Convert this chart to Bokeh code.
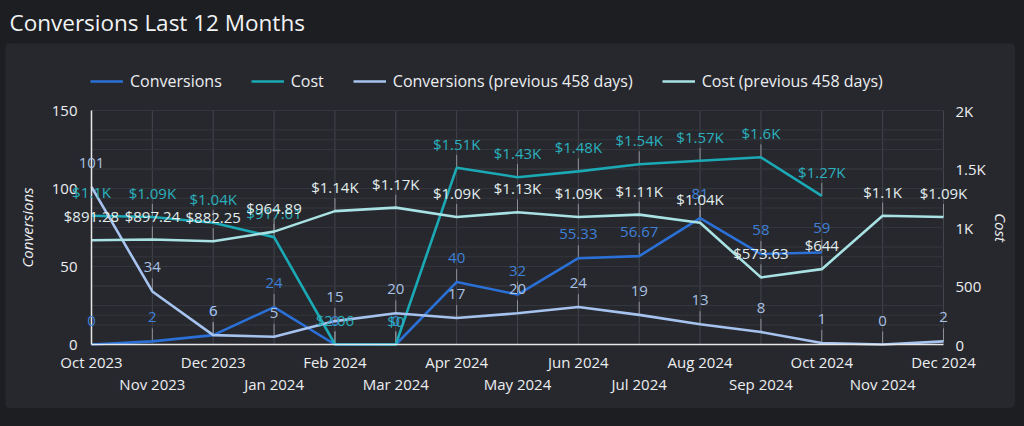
import math
from bokeh.plotting import figure
from bokeh.models import (ColumnDataSource, Range1d, LinearAxis, FixedTicker, Legend,
                          LegendItem, LabelSet)
from bokeh.layouts import column
from bokeh.embed import file_html
from bokeh.resources import INLINE
from bokeh.core.properties import value

NaN = float("nan")

# ---------------- data ----------------
months = ["Oct 2023", "Nov 2023", "Dec 2023", "Jan 2024", "Feb 2024", "Mar 2024", "Apr 2024",
          "May 2024", "Jun 2024", "Jul 2024", "Aug 2024", "Sep 2024", "Oct 2024", "Nov 2024",
          "Dec 2024"]
conversions = [0, 2, 6, 24, 0, 0, 40, 32, 55.33, 56.67, 81, 58, 59, NaN, NaN]
cost = [1100, 1090, 1040, 917.61, 2.06, 0, 1510, 1430, 1480, 1540, 1570, 1600, 1270, NaN, NaN]
conversions_prev = [101, 34, 6, 5, 15, 20, 17, 20, 24, 19, 13, 8, 1, 0, 2]
cost_prev = [891.28, 897.24, 882.25, 964.89, 1140, 1170, 1090, 1130, 1090, 1110, 1040, 573.63,
             644, 1100, 1090]

left_ticks = [0, 50, 100, 150]
left_grid = [0, 12.5, 25, 37.5, 50, 62.5, 75, 87.5, 100, 112.5, 125, 137.5, 150]
right_ticks = [0, 500, 1000, 1500, 2000]
right_tick_labels = ["0", "500", "1K", "1.5K", "2K"]
right_grid = [0, 250, 500, 750, 1000, 1250, 1500, 1750, 2000]
CONV_MAX = 150
COST_MAX = 2000

# ---------------- style ----------------
FONT = "Open Sans"
PAGE = "#1d1e22"
CARD = "#27282e"
TXT = "#eceef0"
GRID = "#34363d"
VGRID = "#43454d"
C_CONV = "#2a70d6"
C_COST = "#1aa9b5"
C_CPREV = "#a6c3ef"
C_COSTPREV = "#a8e2e4"
L_CONV = "#3f80d8"
L_COST = "#2ab0bd"
L_CPREV = "#a9c1e3"
L_COSTPREV = "#e2eeee"

# canvas geometry of the main card figure (px)
W, H = 1010, 365
PL, PR, PT, PB = 86, 938, 67, 301      # plot area edges
LEADER_PX = 13


def fmt_num(v):
    return f"{v:.2f}".rstrip("0").rstrip(".")


def fmt_cost(v):
    if v >= 1000:
        return "$" + fmt_num(v / 1000) + "K"
    return "$" + fmt_num(v)


x = list(range(len(months)))
n = len(months) - 1
x_per_px = n / (PR - PL)
conv_per_px = CONV_MAX / (PB - PT)
cost_per_px = COST_MAX / (PB - PT)

# ---------------- title figure ----------------
p0 = figure(width=1024, height=43, toolbar_location=None, output_backend="svg",
            x_range=(0, 1), y_range=(0, 1), x_axis_location=None, y_axis_location=None,
            min_border=0, background_fill_color=PAGE, border_fill_color=PAGE,
            outline_line_color=None)
p0.grid.visible = False
p0.title.text = "Conversions Last 12 Months"
p0.title.text_font = FONT
p0.title.text_font_size = "22.5px"
p0.title.text_font_style = "normal"
p0.title.text_color = "#f1f3f4"
p0.title.align = "left"
p0.title.offset = 9
p0.title.standoff = 9

# ---------------- main figure (frame covers the whole card) ----------------
p = figure(width=W, height=H, toolbar_location=None, output_backend="svg",
           x_range=Range1d(-PL * x_per_px, (W - PL) * x_per_px),
           y_range=Range1d(-(H - PB) * conv_per_px, PB * conv_per_px),
           background_fill_color=CARD, border_fill_color=CARD, outline_line_color=None,
           min_border=0)
p.margin = (0, 0, 0, 5)
p.styles = {"border-radius": "5px", "overflow": "hidden"}
p.extra_y_ranges = {"cost": Range1d(-(H - PB) * cost_per_px, PB * cost_per_px)}
p.xgrid.visible = False
p.ygrid.visible = False


def style_axis(ax, size="15px"):
    ax.major_tick_out = 0
    ax.major_tick_in = 0
    ax.minor_tick_out = 0
    ax.minor_tick_in = 0
    ax.major_tick_line_color = None
    ax.minor_tick_line_color = None
    ax.major_label_text_font = FONT
    ax.major_label_text_font_size = size
    ax.major_label_text_color = TXT
    ax.axis_label_text_font = FONT
    ax.axis_label_text_font_size = "15px"
    ax.axis_label_text_font_style = "italic"
    ax.axis_label_text_color = TXT


# grid (drawn as segments so that it stays inside the plot area)
p.segment(x0=x, y0=[0] * len(x), x1=x, y1=[CONV_MAX] * len(x), line_color=VGRID, line_width=1)
p.segment(x0=[0] * len(left_grid), y0=left_grid, x1=[n] * len(left_grid), y1=left_grid,
          line_color=GRID, line_width=1)
p.segment(x0=[0] * len(right_grid), y0=right_grid, x1=[n] * len(right_grid), y1=right_grid,
          line_color=GRID, line_width=1, y_range_name="cost")

# x axes (staggered month labels)
xa = p.xaxis[0]
xa.ticker = FixedTicker(ticks=x[0::2])
xa.major_label_overrides = {i: months[i] for i in x[0::2]}
xa.fixed_location = 0
xa.bounds = (0, n)
xa.axis_line_color = "#e8e8e8"
xa.axis_line_width = 1.5
style_axis(xa)
xa.major_label_standoff = 7

xb = LinearAxis(ticker=FixedTicker(ticks=x[1::2]),
                major_label_overrides={i: months[i] for i in x[1::2]})
xb.fixed_location = 0
xb.bounds = (0, n)
xb.axis_line_color = None
style_axis(xb)
xb.major_label_standoff = 29
p.add_layout(xb, "below")

# left axis
ya = p.yaxis[0]
ya.ticker = FixedTicker(ticks=left_ticks)
ya.fixed_location = 0
ya.bounds = (0, CONV_MAX)
ya.axis_line_color = "#e8e8e8"
ya.axis_line_width = 1.5
style_axis(ya)
ya.major_label_standoff = 14
ya.axis_label = "Conversions"
ya.axis_label_standoff = 12

# right axis
yr = LinearAxis(y_range_name="cost", ticker=FixedTicker(ticks=right_ticks),
                major_label_overrides=dict(zip(right_ticks, right_tick_labels)))
yr.fixed_location = n
yr.bounds = (0, COST_MAX)
yr.axis_line_color = None
style_axis(yr)
yr.major_label_standoff = 12
yr.axis_label = "Cost"
yr.axis_label_standoff = 2
p.add_layout(yr, "right")


# leaders (short vertical lines from point toward its label)
def leaders(vals, per_px, rng=None):
    xs = [i for i, v in zip(x, vals) if not math.isnan(v)]
    ys = [v for v in vals if not math.isnan(v)]
    y1 = [v + LEADER_PX * per_px for v in ys]
    kw = {} if rng is None else {"y_range_name": rng}
    p.segment(x0=xs, y0=ys, x1=xs, y1=y1, line_color="#8e9097", line_width=1, **kw)


leaders(conversions, conv_per_px)
leaders(cost, cost_per_px, "cost")
leaders(conversions_prev, conv_per_px)
leaders(cost_prev, cost_per_px, "cost")

# lines
r_conv = p.line(x, conversions, line_color=C_CONV, line_width=2.6)
r_cost = p.line(x, cost, line_color=C_COST, line_width=2.6, y_range_name="cost")
r_cprev = p.line(x, conversions_prev, line_color=C_CPREV, line_width=2.6)
r_costprev = p.line(x, cost_prev, line_color=C_COSTPREV, line_width=2.6, y_range_name="cost")


def labels(vals, fmt, color, rng=None):
    xs = [i for i, v in zip(x, vals) if not math.isnan(v)]
    ys = [v for v in vals if not math.isnan(v)]
    src = ColumnDataSource(dict(x=xs, y=ys, t=[fmt(v) for v in ys]))
    kw = {} if rng is None else {"y_range_name": rng}
    ls = LabelSet(x="x", y="y", text="t", source=src, y_offset=24, text_align="center",
                  text_baseline="middle", text_font=value(FONT), text_font_size="15px",
                  text_color=color, **kw)
    p.add_layout(ls)


labels(conversions, fmt_num, L_CONV)
labels(cost, fmt_cost, L_COST, "cost")
labels(conversions_prev, fmt_num, L_CPREV)
labels(cost_prev, fmt_cost, L_COSTPREV, "cost")

legend = Legend(items=[
    LegendItem(label="Conversions", renderers=[r_conv]),
    LegendItem(label="Cost", renderers=[r_cost]),
    LegendItem(label="Conversions (previous 458 days)", renderers=[r_cprev]),
    LegendItem(label="Cost (previous 458 days)", renderers=[r_costprev]),
], orientation="horizontal", location=(80, H - 54))
legend.background_fill_alpha = 0
legend.border_line_alpha = 0
legend.label_text_font = FONT
legend.label_text_font_size = "16px"
legend.label_text_color = TXT
legend.glyph_width = 33
legend.glyph_height = 20
legend.label_standoff = 7
legend.spacing = 29
legend.padding = 5
legend.margin = 0
p.add_layout(legend)

layout = column(p0, p, spacing=0)
html = file_html(layout, INLINE)
html = html.replace("<head>", "<head><style>html,body{background:%s;}</style>" % PAGE, 1)
open("out.html", "w").write(html)
